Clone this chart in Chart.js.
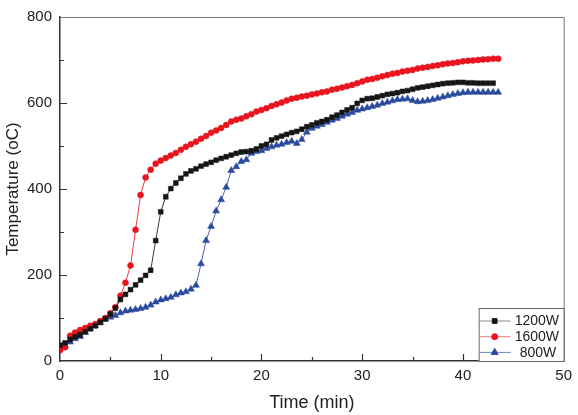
<!DOCTYPE html>
<html lang="en">
<head>
  <meta charset="UTF-8">
  <title>Temperature vs Time</title>
  <script src="https://cdn.jsdelivr.net/npm/chart.js"></script>
  <style>
    html, body { margin: 0; padding: 0; background: #fff; }
    #wrap { width: 578px; height: 415px; position: relative; }
  </style>
</head>
<body>
  <div id="wrap"><canvas id="chart"></canvas></div>

<script>
  // time axis, one reading every half minute
  const times = [
    0, 0.5, 1, 1.5, 2, 2.5, 3, 3.5, 4, 4.5,
    5, 5.5, 6, 6.5, 7, 7.5, 8, 8.5, 9, 9.5,
    10, 10.5, 11, 11.5, 12, 12.5, 13, 13.5, 14, 14.5,
    15, 15.5, 16, 16.5, 17, 17.5, 18, 18.5, 19, 19.5,
    20, 20.5, 21, 21.5, 22, 22.5, 23, 23.5, 24, 24.5,
    25, 25.5, 26, 26.5, 27, 27.5, 28, 28.5, 29, 29.5,
    30, 30.5, 31, 31.5, 32, 32.5, 33, 33.5, 34, 34.5,
    35, 35.5, 36, 36.5, 37, 37.5, 38, 38.5, 39, 39.5,
    40, 40.5, 41, 41.5, 42, 42.5, 43, 43.5
  ];

  const temp1200 = [
    37, 42, 50, 56, 61, 68, 75, 82, 90, 98,
    109, 123, 143, 155, 166, 177, 188, 199, 211, 280,
    347, 382, 401, 414, 425, 435, 442, 447, 453, 458,
    462, 467, 471, 475, 479, 483, 486, 487, 489, 493,
    500, 504, 514, 519, 523, 527, 531, 534, 539, 545,
    549, 554, 557, 561, 567, 572, 578, 584, 589, 599,
    606, 610, 611, 614, 617, 620, 622, 624, 627, 629,
    632, 635, 637, 639, 641, 643, 645, 646, 647, 648,
    648, 647, 647, 646, 646, 646, 646
  ];

  const temp1600 = [
    25, 32, 59, 66, 72, 77, 82, 86, 93, 100,
    111, 125, 152, 182, 222, 305, 386, 427, 445, 459,
    466, 472, 478, 484, 491, 498, 504, 510, 517, 523,
    531, 536, 542, 549, 557, 561, 564, 569, 574, 580,
    584, 588, 593, 597, 601, 606, 610, 612, 615, 617,
    620, 622, 625, 627, 631, 633, 636, 639, 642, 646,
    650, 654, 656, 659, 662, 665, 668, 670, 673, 675,
    677, 680, 682, 684, 686, 688, 690, 692, 693, 695,
    697, 698, 699, 700, 701, 702, 703, 703
  ];

  const temp800 = [
    30, 36, 44, 52, 57, 67, 75, 82, 89, 97,
    102, 106, 112, 116, 118, 120, 122, 125, 130, 137,
    142, 145, 148, 154, 158, 161, 167, 176, 226, 280,
    313, 349, 375, 404, 443, 452, 464, 468, 483, 487,
    489, 494, 498, 502, 504, 508, 511, 506, 515, 532,
    541, 546, 550, 555, 560, 564, 569, 574, 578, 583,
    586, 589, 592, 595, 599, 602, 605, 608, 609, 610,
    606, 603, 604, 606, 608, 611, 614, 617, 620, 622,
    624, 625, 625, 625, 625, 625, 625, 625
  ];

  const seriesLabels = ['1200W', '1600W', '800W'];

  function pairs(values) {
    return values.map((v, i) => ({ x: times[i], y: v }));
  }

  Chart.defaults.font.family = '"Liberation Sans", Arial, sans-serif';
  Chart.defaults.color = '#222';

  // inward major/minor ticks plus the thin top/right frame
  const frameTicks = {
    id: 'frameTicks',
    afterDraw(chart) {
      const ctx = chart.ctx;
      const ca = chart.chartArea;
      const xs = chart.scales.x;
      const ys = chart.scales.y;
      ctx.save();
      ctx.strokeStyle = '#777';
      ctx.lineWidth = 1;
      ctx.beginPath();
      ctx.moveTo(ca.left, ca.top + 0.5);
      ctx.lineTo(ca.right + 0.5, ca.top + 0.5);
      ctx.lineTo(ca.right + 0.5, ca.bottom);
      ctx.stroke();

      ctx.strokeStyle = '#333';
      ctx.lineWidth = 1.2;
      ctx.beginPath();
      for (let v = 5; v < 50; v += 5) {
        const px = Math.round(xs.getPixelForValue(v)) + 0.5;
        const len = v % 10 === 0 ? 7 : 4;
        ctx.moveTo(px, ca.bottom);
        ctx.lineTo(px, ca.bottom - len);
      }
      for (let v = 100; v < 800; v += 100) {
        const py = Math.round(ys.getPixelForValue(v)) + 0.5;
        const len = v % 200 === 0 ? 7 : 4;
        ctx.moveTo(ca.left, py);
        ctx.lineTo(ca.left + len, py);
      }
      ctx.stroke();
      ctx.restore();
    }
  };

  // boxed legend sitting in the bottom-right corner of the plot
  const cornerLegend = {
    id: 'cornerLegend',
    afterDraw(chart) {
      const ctx = chart.ctx;
      const ca = chart.chartArea;
      const w = 85, h = 53;
      const x0 = ca.right - w, y0 = ca.bottom - h;
      ctx.save();
      ctx.fillStyle = '#fff';
      ctx.fillRect(x0, y0, w, h);
      ctx.strokeStyle = '#666';
      ctx.lineWidth = 1;
      ctx.strokeRect(x0 + 0.5, y0 + 0.5, w, h);

      chart.data.datasets.forEach((ds, i) => {
        const y = y0 + 13 + i * 15.7;
        ctx.strokeStyle = ds.legendLine;
        ctx.lineWidth = 1;
        ctx.beginPath();
        ctx.moveTo(x0 + 1, y);
        ctx.lineTo(x0 + 32, y);
        ctx.stroke();

        ctx.fillStyle = ds.pointBackgroundColor;
        ctx.strokeStyle = ds.pointBorderColor;
        Chart.helpers.drawPoint(ctx, {
          pointStyle: ds.pointStyle,
          radius: ds.pointRadius,
          borderWidth: 1,
          rotation: 0
        }, x0 + 16, y);

        ctx.fillStyle = '#222';
        ctx.font = '14px "Liberation Sans", Arial, sans-serif';
        ctx.textBaseline = 'middle';
        ctx.textAlign = 'left';
        ctx.fillText(ds.label, x0 + (i === 2 ? 41 : 36), y + 0.5);
      });
      ctx.restore();
    }
  };

  new Chart(document.getElementById('chart'), {
    type: 'line',
    data: {
      datasets: [
        {
          label: seriesLabels[0],
          data: pairs(temp1200),
          borderColor: '#3a3a3a',
          legendLine: '#8a8a8a',
          borderWidth: 1,
          pointStyle: 'rect',
          pointRadius: 3.4,
          pointBackgroundColor: '#151515',
          pointBorderColor: '#151515',
          pointBorderWidth: 0.5
        },
        {
          label: seriesLabels[1],
          data: pairs(temp1600),
          borderColor: '#ee3a40',
          legendLine: '#f07a7e',
          borderWidth: 1,
          pointStyle: 'circle',
          pointRadius: 3,
          pointBackgroundColor: '#e8141e',
          pointBorderColor: '#e8141e',
          pointBorderWidth: 0.5
        },
        {
          label: seriesLabels[2],
          data: pairs(temp800),
          borderColor: '#4a67b3',
          legendLine: '#6d86c4',
          borderWidth: 1,
          pointStyle: 'triangle',
          pointRadius: 4,
          pointBackgroundColor: '#2a4a9e',
          pointBorderColor: '#2a4a9e',
          pointBorderWidth: 0.5
        }
      ]
    },
    options: {
      responsive: true,
      maintainAspectRatio: false,
      animation: false,
      layout: { padding: { left: 0, right: 11, top: 10, bottom: 0 } },
      plugins: {
        legend: { display: false },
        tooltip: { enabled: false }
      },
      elements: { line: { tension: 0 } },
      scales: {
        x: {
          type: 'linear',
          min: 0,
          max: 50,
          afterFit(s) { s.height = 54; },
          ticks: { stepSize: 10, padding: 6, font: { size: 15 }, color: '#222' },
          grid: { display: false, drawTicks: false },
          border: { display: true, color: '#333', width: 1.5 },
          title: {
            display: true,
            text: 'Time (min)',
            font: { size: 18 },
            color: '#222',
            padding: { top: 0, bottom: 1 }
          }
        },
        y: {
          min: 0,
          max: 800,
          afterFit(s) { s.width = 60; },
          ticks: { stepSize: 200, padding: 8, font: { size: 15 }, color: '#222' },
          grid: { display: false, drawTicks: false },
          border: { display: true, color: '#333', width: 1.5 },
          title: {
            display: true,
            text: 'Temperature (oC)',
            font: { size: 17 },
            color: '#222',
            padding: { top: 3, bottom: 0 }
          }
        }
      }
    },
    plugins: [frameTicks, cornerLegend]
  });
</script>
</body>
</html>
